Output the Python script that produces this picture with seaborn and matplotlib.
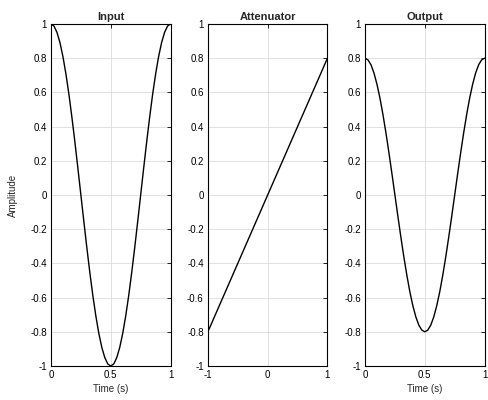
import numpy as np
import pandas as pd
import seaborn as sns
import matplotlib.pyplot as plt
from matplotlib.ticker import FuncFormatter

# values (time in s)
t = [0.0, 0.025, 0.05, 0.075, 0.1, 0.125, 0.15, 0.175, 0.2, 0.225, 0.25,
     0.275, 0.3, 0.325, 0.35, 0.375, 0.4, 0.425, 0.45, 0.475, 0.5,
     0.525, 0.55, 0.575, 0.6, 0.625, 0.65, 0.675, 0.7, 0.725, 0.75,
     0.775, 0.8, 0.825, 0.85, 0.875, 0.9, 0.925, 0.95, 0.975, 1.0]
input_amp = [1.0, 0.988, 0.951, 0.891, 0.809, 0.707, 0.588, 0.454, 0.309, 0.156, 0.0,
             -0.156, -0.309, -0.454, -0.588, -0.707, -0.809, -0.891, -0.951, -0.988, -1.0,
             -0.988, -0.951, -0.891, -0.809, -0.707, -0.588, -0.454, -0.309, -0.156, 0.0,
             0.156, 0.309, 0.454, 0.588, 0.707, 0.809, 0.891, 0.951, 0.988, 1.0]
output_amp = [0.8, 0.790, 0.761, 0.713, 0.647, 0.566, 0.470, 0.363, 0.247, 0.125, 0.0,
              -0.125, -0.247, -0.363, -0.470, -0.566, -0.647, -0.713, -0.761, -0.790, -0.8,
              -0.790, -0.761, -0.713, -0.647, -0.566, -0.470, -0.363, -0.247, -0.125, 0.0,
              0.125, 0.247, 0.363, 0.470, 0.566, 0.647, 0.713, 0.761, 0.790, 0.8]
att_in = [-1.0, 1.0]
att_out = [-0.8, 0.8]

titles = ["Input", "Attenuator", "Output"]
y_ticks = [-1, -0.8, -0.6, -0.4, -0.2, 0, 0.2, 0.4, 0.6, 0.8, 1]

sns.set_style("white")
plt.rcParams['font.family'] = ['Liberation Sans', 'DejaVu Sans']
plt.rcParams['axes.unicode_minus'] = False

fig = plt.figure(figsize=(4.88, 4.0), dpi=100)
lefts = [0.1045, 0.426, 0.748]
width = 0.245
axes = [fig.add_axes([l, 0.085, width, 0.855]) for l in lefts]

data = [(t, input_amp), (att_in, att_out), (t, output_amp)]
xticks = [[0, 0.5, 1], [-1, 0, 1], [0, 0.5, 1]]
xlims = [(0, 1), (-1, 1), (0, 1)]

fmt = FuncFormatter(lambda v, p: '%g' % v)
for ax, (xs, ys), title, xt, xl in zip(axes, data, titles, xticks, xlims):
    df = pd.DataFrame({'x': xs, 'y': ys})
    sns.lineplot(data=df, x='x', y='y', ax=ax, color='black', linewidth=1.0, sort=False)
    ax.set_xlim(*xl)
    ax.set_ylim(-1, 1)
    ax.set_xticks(xt)
    ax.set_yticks(y_ticks)
    ax.xaxis.set_major_formatter(fmt)
    ax.yaxis.set_major_formatter(fmt)
    ax.grid(True, color='#dcdcdc', linewidth=0.6)
    ax.set_axisbelow(True)
    for s in ax.spines.values():
        s.set_visible(True)
        s.set_color('black')
        s.set_linewidth(0.8)
    ax.tick_params(direction='in', top=True, right=True, length=3, width=0.6,
                   labelsize=7, pad=3, colors='black')
    ax.set_title(title, fontsize=8, fontweight='bold', pad=3)
    ax.set_xlabel('')
    ax.set_ylabel('')

axes[0].set_ylabel('Amplitude', fontsize=7, labelpad=9)
axes[0].set_xlabel('Time (s)', fontsize=7, labelpad=3)
axes[2].set_xlabel('Time (s)', fontsize=7, labelpad=3)

fig.savefig('out.png', dpi=100)
